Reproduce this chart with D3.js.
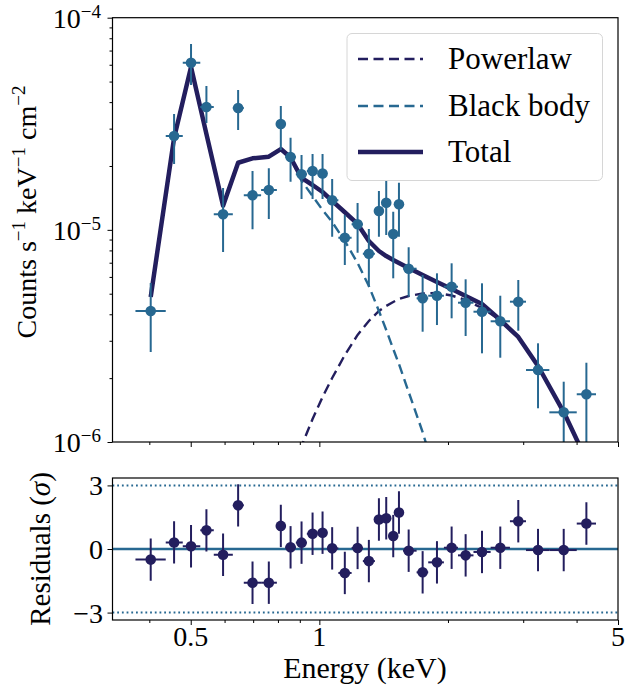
<!DOCTYPE html>
<html><head><meta charset="utf-8">
<script src="https://cdn.jsdelivr.net/npm/d3@7"></script>
<style>
body{margin:0;background:#fff}
</style>
</head><body><svg id="c" width="625" height="700"></svg>
<script>
// ---------- data ----------
const eCenter = [0.4030,0.4571,0.5008,0.5441,0.5952,0.6455,0.6976,0.7616,0.8125,0.8563,0.9085,0.9641,1.0174,1.0715,1.1471,1.2288,1.3058,1.3785,1.4339,1.4891,1.5357,1.6182,1.7447,1.8848,2.0398,2.1997,2.4023,2.6512,2.9214,3.2494,3.7317,4.2167];
const eLo = [0.3712,0.4370,0.4790,0.5264,0.5661,0.6273,0.6655,0.7306,0.7954,0.8325,0.8810,0.9348,0.9893,1.0441,1.1078,1.1898,1.2642,1.3490,1.4083,1.4630,1.5113,1.5694,1.6889,1.7979,1.9565,2.1108,2.2947,2.5171,2.7930,3.0450,3.4536,4.0033];
const eHi = [0.4370,0.4790,0.5264,0.5661,0.6273,0.6655,0.7306,0.7954,0.8325,0.8810,0.9348,0.9893,1.0441,1.1078,1.1898,1.2642,1.3490,1.4083,1.4630,1.5113,1.5694,1.6889,1.7979,1.9565,2.1108,2.2947,2.5171,2.7930,3.0450,3.4536,4.0033,4.4411];
const flux = [4.145e-6,2.770e-5,6.136e-5,3.794e-5,1.184e-5,3.753e-5,1.455e-5,1.541e-5,3.155e-5,2.205e-5,1.827e-5,1.894e-5,1.843e-5,1.378e-5,9.184e-6,1.062e-5,7.719e-6,1.227e-5,1.343e-5,9.559e-6,1.320e-5,6.560e-6,4.757e-6,4.892e-6,5.395e-6,4.535e-6,4.113e-6,3.707e-6,4.585e-6,2.184e-6,1.380e-6,1.679e-6];
const fluxHi = [5.616e-6,3.516e-5,7.516e-5,4.766e-5,1.575e-5,4.563e-5,1.894e-5,1.950e-5,3.836e-5,2.719e-5,2.253e-5,2.278e-5,2.278e-5,1.737e-5,1.175e-5,1.338e-5,1.009e-5,1.524e-5,1.718e-5,1.218e-5,1.669e-5,8.272e-6,6.125e-6,6.239e-6,6.955e-6,5.846e-6,5.598e-6,4.892e-6,5.802e-6,2.919e-6,1.924e-6,2.364e-6];
const fluxLo = [2.655e-6,2.043e-5,4.818e-5,3.190e-5,7.865e-6,2.956e-5,1.006e-5,1.125e-5,2.378e-5,1.687e-5,1.398e-5,1.398e-5,1.398e-5,9.284e-6,6.828e-6,7.80e-6,5.395e-6,9.284e-6,9.456e-6,5.910e-6,9.284e-6,4.840e-6,3.310e-6,3.559e-6,3.829e-6,3.160e-6,2.618e-6,2.496e-6,3.346e-6,1.442e-6,8.685e-7,9.0e-7];
const resid = [-0.50,0.31,0.13,0.88,-0.27,2.06,-1.59,-1.59,1.09,0.08,0.30,0.72,0.77,0.03,-1.13,0.05,-0.57,1.39,1.45,0.61,1.72,-0.08,-1.10,-0.63,0.06,-0.30,-0.14,0.06,1.31,-0.05,-0.05,1.20];
const residErr = [1,1,1,1,1,1,1,1,1,1,1,1,1,1,1,1,1,1,1,1,1,1,1,1,1,1,1,1,1,1,1,1];

const totalModel = [4.826e-6,2.710e-5,5.855e-5,2.830e-5,1.300e-5,2.072e-5,2.174e-5,2.212e-5,2.404e-5,2.193e-5,1.756e-5,1.627e-5,1.508e-5,1.368e-5,1.210e-5,1.066e-5,8.860e-6,7.950e-6,7.527e-6,7.208e-6,6.976e-6,6.609e-6,6.125e-6,5.677e-6,5.263e-6,4.877e-6,4.472e-6,3.759e-6,3.126e-6,2.281e-6,1.384e-6,8.227e-7];
const plEnergy = [0.8563,0.9085,0.9641,1.0174,1.0715,1.1471,1.2288,1.3058,1.3785,1.4339,1.4891,1.5357,1.6182,1.7447,1.8848,2.0398,2.1997,2.4023,2.6512,2.9214,3.2494,3.7317,4.2167];
const plModel = [6.62e-7,9.575e-7,1.283e-6,1.630e-6,2.002e-6,2.570e-6,3.195e-6,3.718e-6,4.145e-6,4.377e-6,4.571e-6,4.721e-6,4.877e-6,5.012e-6,5.039e-6,4.904e-6,4.671e-6,4.281e-6,3.759e-6,3.126e-6,2.281e-6,1.384e-6,8.227e-7];
const bbEnergy = [0.8125,0.8563,0.9085,0.9641,1.0174,1.0715,1.1471,1.2288,1.3058,1.3785,1.4339,1.4891,1.5357,1.6182,1.7447,1.8848];
const bbModel = [2.404e-5,2.193e-5,1.700e-5,1.444e-5,1.241e-5,1.089e-5,8.860e-6,6.976e-6,5.436e-6,4.145e-6,3.373e-6,2.744e-6,2.331e-6,1.720e-6,1.114e-6,6.62e-7];

const xTickMajor = [0.5, 1, 5];
const xTickLabels = ["0.5", "1", "5"];
const xTickMinor = [0.4, 0.6, 0.7, 0.8, 0.9, 2, 3, 4];
const yTickMajor = [1e-6, 1e-5, 1e-4];
const yTickExp = ["−6", "−5", "−4"];
const rTicks = [-3, 0, 3];
const rTickLabels = ["−3", "0", "3"];
const legendLabels = ["Powerlaw", "Black body", "Total"];

// ---------- layout ----------
const FONT = "'Liberation Serif', 'DejaVu Serif', serif";
const NAVY = "#231e5e", BLUE = "#276891";
const L = 112.5, R = 618;
const T1 = 17.7, B1 = 442, T2 = 478, B2 = 620;
const svg = d3.select("#c").attr("font-family", FONT);
svg.append("rect").attr("width",625).attr("height",700).attr("fill","#fff");

const x = d3.scaleLog().domain([0.328, 5]).range([L, R]);
const y = d3.scaleLog().domain([1e-6, 1e-4]).range([B1, T1]);
const yr = d3.scaleLinear().domain([-3.35, 3.35]).range([B2, T2]);

const defs = svg.append("defs");
defs.append("clipPath").attr("id","clipTop").append("rect").attr("x",L).attr("y",T1).attr("width",R-L).attr("height",B1-T1);
defs.append("clipPath").attr("id","clipBot").append("rect").attr("x",L).attr("y",T2).attr("width",R-L).attr("height",B2-T2);

// ---------- top panel ----------
const topG = svg.append("g").attr("clip-path","url(#clipTop)");
const mkLine = (ex, vals) => d3.line().x((d,i)=>x(ex[i])).y(d=>y(d))(vals);

topG.append("path").attr("d", mkLine(plEnergy, plModel)).attr("fill","none")
  .attr("stroke",NAVY).attr("stroke-width",2.4).attr("stroke-dasharray","10,5.5");
topG.append("path").attr("d", mkLine(bbEnergy, bbModel)).attr("fill","none")
  .attr("stroke",BLUE).attr("stroke-width",2.4).attr("stroke-dasharray","10,5.5");
topG.append("path").attr("d", mkLine(eCenter, totalModel)).attr("fill","none")
  .attr("stroke",NAVY).attr("stroke-width",4.5).attr("stroke-linejoin","round");

const pts = topG.append("g");
eCenter.forEach((e,i)=>{
  pts.append("line").attr("x1",x(e)).attr("x2",x(e)).attr("y1",y(fluxLo[i])).attr("y2",y(fluxHi[i]))
    .attr("stroke",BLUE).attr("stroke-width",2);
  pts.append("line").attr("x1",x(eLo[i])).attr("x2",x(eHi[i])).attr("y1",y(flux[i])).attr("y2",y(flux[i]))
    .attr("stroke",BLUE).attr("stroke-width",2);
  pts.append("circle").attr("cx",x(e)).attr("cy",y(flux[i])).attr("r",5.3).attr("fill",BLUE);
});

// top frame
svg.append("rect").attr("x",L).attr("y",T1).attr("width",R-L).attr("height",B1-T1)
  .attr("fill","none").attr("stroke","#000").attr("stroke-width",1.2);

// top x ticks (no labels)
const gxTop = svg.append("g").attr("transform",`translate(0,${B1})`);
gxTop.call(d3.axisBottom(x).tickValues(xTickMajor).tickFormat("").tickSizeInner(5).tickSizeOuter(0));
gxTop.append("g").call(d3.axisBottom(x).tickValues(xTickMinor).tickFormat("").tickSizeInner(3).tickSizeOuter(0));
// top y ticks
const gyTop = svg.append("g").attr("transform",`translate(${L},0)`);
gyTop.call(d3.axisLeft(y).tickValues(yTickMajor).tickFormat("").tickSizeInner(5).tickSizeOuter(0));
const yMinor = [];
[1e-6,1e-5].forEach(b=>{for(let k=2;k<=9;k++) yMinor.push(b*k);});
gyTop.append("g").call(d3.axisLeft(y).tickValues(yMinor).tickFormat("").tickSizeInner(3).tickSizeOuter(0));
svg.selectAll(".domain").remove();
svg.selectAll(".tick line").attr("stroke","#000").attr("stroke-width",1);

yTickMajor.forEach((v,i)=>{
  const t = svg.append("text").attr("x",101).attr("y",y(v)+10).attr("text-anchor","end").attr("font-size",28).attr("font-family",FONT);
  t.append("tspan").text("10");
  t.append("tspan").attr("dy",-10).attr("font-size",19).text(yTickExp[i]);
});

// legend
const lg = svg.append("g");
lg.append("rect").attr("x",347).attr("y",33.5).attr("width",255.5).attr("height",147).attr("rx",5)
  .attr("fill","#fff").attr("fill-opacity",0.8).attr("stroke","#d6d6d6").attr("stroke-width",1);
const lgRows = [59, 106, 152];
const lgStyle = [{c:NAVY,w:2.4,d:"10,5.5"},{c:BLUE,w:2.4,d:"10,5.5"},{c:NAVY,w:4.5,d:null}];
legendLabels.forEach((lab,i)=>{
  const ln = lg.append("line").attr("x1",358).attr("x2",423).attr("y1",lgRows[i]).attr("y2",lgRows[i])
    .attr("stroke",lgStyle[i].c).attr("stroke-width",lgStyle[i].w);
  if (lgStyle[i].d) ln.attr("stroke-dasharray",lgStyle[i].d);
  lg.append("text").attr("x",448).attr("y",lgRows[i]+10).attr("font-size",31).attr("font-family",FONT).text(lab);
});

// y label top
const yl = svg.append("text").attr("transform","translate(36,212) rotate(-90)").attr("text-anchor","middle").attr("font-size",28).attr("font-family",FONT);
yl.append("tspan").text("Counts s");
yl.append("tspan").attr("dy",-11).attr("font-size",19).text("−1");
yl.append("tspan").attr("dy",11).text(" keV");
yl.append("tspan").attr("dy",-11).attr("font-size",19).text("−1");
yl.append("tspan").attr("dy",11).text(" cm");
yl.append("tspan").attr("dy",-11).attr("font-size",19).text("−2");

// ---------- bottom panel ----------
const botG = svg.append("g").attr("clip-path","url(#clipBot)");
[-3,3].forEach(v=>{
  botG.append("line").attr("x1",L).attr("x2",R).attr("y1",yr(v)).attr("y2",yr(v))
    .attr("stroke",BLUE).attr("stroke-width",2).attr("stroke-dasharray","1.8,2.9");
});
botG.append("line").attr("x1",L).attr("x2",R).attr("y1",yr(0)).attr("y2",yr(0))
  .attr("stroke",BLUE).attr("stroke-width",2.4);
eCenter.forEach((e,i)=>{
  botG.append("line").attr("x1",x(e)).attr("x2",x(e)).attr("y1",yr(resid[i]-residErr[i])).attr("y2",yr(resid[i]+residErr[i]))
    .attr("stroke",NAVY).attr("stroke-width",2);
  botG.append("line").attr("x1",x(eLo[i])).attr("x2",x(eHi[i])).attr("y1",yr(resid[i])).attr("y2",yr(resid[i]))
    .attr("stroke",NAVY).attr("stroke-width",2);
  botG.append("circle").attr("cx",x(e)).attr("cy",yr(resid[i])).attr("r",5.3).attr("fill",NAVY);
});
svg.append("rect").attr("x",L).attr("y",T2).attr("width",R-L).attr("height",B2-T2)
  .attr("fill","none").attr("stroke","#000").attr("stroke-width",1.2);

const gxB = svg.append("g").attr("transform",`translate(0,${B2})`);
gxB.call(d3.axisBottom(x).tickValues(xTickMajor).tickFormat("").tickSizeInner(5).tickSizeOuter(0));
gxB.append("g").call(d3.axisBottom(x).tickValues(xTickMinor).tickFormat("").tickSizeInner(3).tickSizeOuter(0));
const gyB = svg.append("g").attr("transform",`translate(${L},0)`);
gyB.call(d3.axisLeft(yr).tickValues(rTicks).tickFormat("").tickSizeInner(5).tickSizeOuter(0));
svg.selectAll(".domain").remove();
svg.selectAll(".tick line").attr("stroke","#000").attr("stroke-width",1);

xTickMajor.forEach((v,i)=>{
  svg.append("text").attr("x",x(v)).attr("y",646).attr("text-anchor","middle").attr("font-size",28).attr("font-family",FONT).text(xTickLabels[i]);
});
rTicks.forEach((v,i)=>{
  svg.append("text").attr("x",103).attr("y",yr(v)+10).attr("text-anchor","end").attr("font-size",28).attr("font-family",FONT).text(rTickLabels[i]);
});
svg.append("text").attr("x",365).attr("y",678).attr("text-anchor","middle").attr("font-size",30).attr("font-family",FONT).text("Energy (keV)");
const rl = svg.append("text").attr("transform","translate(50,549) rotate(-90)").attr("text-anchor","middle").attr("font-size",29).attr("font-family",FONT);
rl.append("tspan").text("Residuals (");
rl.append("tspan").attr("font-style","italic").text("σ");
rl.append("tspan").text(")");
</script>
</body></html>
